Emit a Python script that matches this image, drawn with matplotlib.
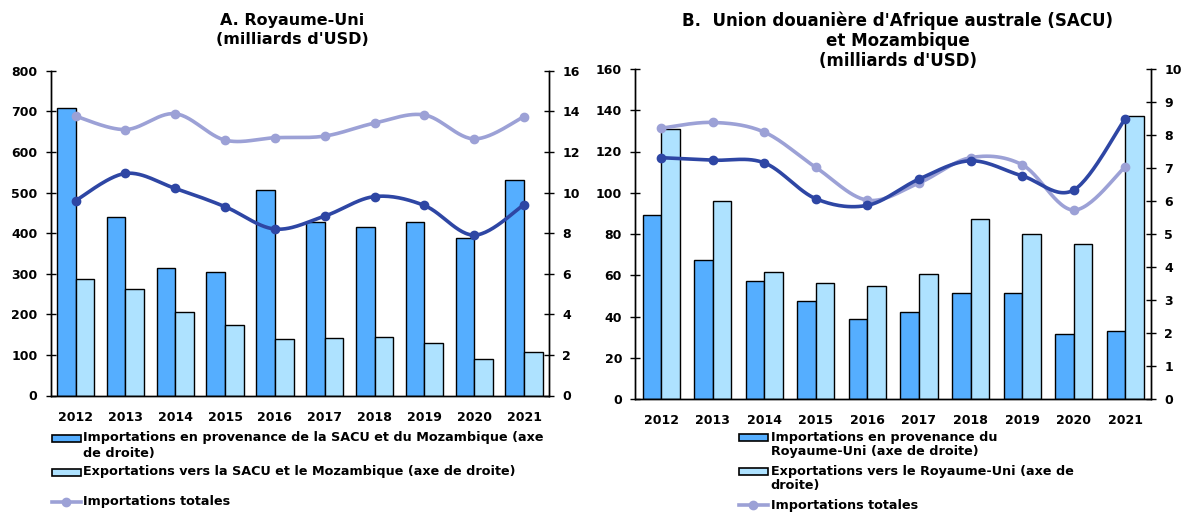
import numpy as np
import matplotlib
matplotlib.use("Agg")
import matplotlib.pyplot as plt
from matplotlib.patches import Rectangle
from matplotlib.lines import Line2D

plt.rcParams['font.family'] = ['DejaVu Sans']
plt.rcParams['font.weight'] = 'bold'

years = ["2012", "2013", "2014", "2015", "2016", "2017", "2018", "2019", "2020", "2021"]

# Panel A: Royaume-Uni
a_imports_sacu = [14.17, 8.77, 6.30, 6.10, 10.10, 8.57, 8.28, 8.54, 7.77, 10.62]   # right axis
a_exports_sacu = [5.76, 5.24, 4.09, 3.48, 2.78, 2.85, 2.90, 2.57, 1.80, 2.13]      # right axis
a_total_imports = [688, 655, 694, 629, 635, 639, 671, 691, 632, 687]               # left axis
a_total_exports = [480, 547, 510, 465, 410, 442, 490, 468, 395, 470]               # left axis

# Panel B: SACU et Mozambique
b_imports_uk = [5.57, 4.22, 3.58, 2.96, 2.42, 2.64, 3.22, 3.20, 1.97, 2.07]        # right axis
b_exports_uk = [8.19, 6.00, 3.86, 3.52, 3.42, 3.79, 5.45, 5.00, 4.70, 8.59]        # right axis
b_total_imports = [131.3, 134.1, 129.4, 112.3, 96.4, 104.7, 117.0, 113.6, 91.6, 112.6]
b_total_exports = [117.0, 115.8, 114.5, 97.1, 93.9, 106.6, 115.5, 108.2, 101.3, 136.0]

C_DARK_BAR = "#55AEFF"
C_LIGHT_BAR = "#AEE2FF"
C_LIGHT_LINE = "#9CA1D6"
C_DARK_LINE = "#2E46A4"

W, H = 1184, 512
fig = plt.figure(figsize=(W / 100, H / 100), dpi=100)


def smooth(xs, ys, n=30):
    xs = np.asarray(xs, float)
    ys = np.asarray(ys, float)
    px = np.concatenate([[xs[0]], xs, [xs[-1]]])
    py = np.concatenate([[ys[0]], ys, [ys[-1]]])
    ox, oy = [], []
    t = np.linspace(0, 1, n)
    for i in range(1, len(px) - 2):
        p0 = np.array([px[i], py[i]])
        p3 = np.array([px[i + 1], py[i + 1]])
        p1 = p0 + (np.array([px[i + 1], py[i + 1]]) - np.array([px[i - 1], py[i - 1]])) / 6
        p2 = p3 - (np.array([px[i + 2], py[i + 2]]) - np.array([px[i], py[i]])) / 6
        b = ((1 - t) ** 3)[:, None] * p0 + (3 * (1 - t) ** 2 * t)[:, None] * p1 \
            + (3 * (1 - t) * t ** 2)[:, None] * p2 + (t ** 3)[:, None] * p3
        ox.extend(b[:, 0]); oy.extend(b[:, 1])
    return ox, oy


def px2fig(x0, y0, x1, y1):
    return [x0 / W, 1 - y1 / H, (x1 - x0) / W, (y1 - y0) / H]


def panel(rect, imp, exp, tot_imp, tot_exp, lmax, lstep, rmax, rstep, bw):
    ax = fig.add_axes(rect)
    ax2 = ax.twinx()
    x = np.arange(len(years))
    ax2.bar(x - bw / 2, imp, width=bw, color=C_DARK_BAR, edgecolor="black", linewidth=1.0, zorder=2)
    ax2.bar(x + bw / 2, exp, width=bw, color=C_LIGHT_BAR, edgecolor="black", linewidth=1.0, zorder=2)
    sx, sy = smooth(x, tot_imp)
    ax.plot(sx, sy, color=C_LIGHT_LINE, lw=2.6, solid_capstyle='round', zorder=3)
    ax.plot(x, tot_imp, 'o', color=C_LIGHT_LINE, ms=6, zorder=3)
    sx, sy = smooth(x, tot_exp)
    ax.plot(sx, sy, color=C_DARK_LINE, lw=2.6, solid_capstyle='round', zorder=4)
    ax.plot(x, tot_exp, 'o', color=C_DARK_LINE, ms=6, zorder=4)
    ax.set_zorder(ax2.get_zorder() + 1)
    ax.patch.set_visible(False)
    ax.set_xlim(-0.5, len(years) - 0.5)
    ax.set_ylim(0, lmax)
    ax2.set_ylim(0, rmax)
    ax.set_yticks(np.arange(0, lmax + 0.001, lstep))
    ax2.set_yticks(np.arange(0, rmax + 0.001, rstep))
    ax.set_xticks(x)
    ax.set_xticklabels(years, fontsize=9, fontweight='bold')
    ax.tick_params(axis='x', length=0, pad=11)
    for a in (ax, ax2):
        a.tick_params(axis='y', direction='inout', length=7, width=1, labelsize=9, pad=6)
        for s in a.spines.values():
            s.set_linewidth(1)
            s.set_color("black")
        a.spines['top'].set_visible(False)
    for lab in ax.get_yticklabels() + ax2.get_yticklabels():
        lab.set_fontweight('bold')
    return ax, ax2


panel(px2fig(50.7, 70.7, 549, 395.5), a_imports_sacu, a_exports_sacu, a_total_imports,
      a_total_exports, 800, 100, 16, 2, 0.375)
panel(px2fig(635.3, 69, 1151, 399), b_imports_uk, b_exports_uk, b_total_imports,
      b_total_exports, 160, 20, 10, 1, 0.36)

# titles
fig.text(292 / W, 1 - 20 / H, "A. Royaume-Uni", ha='center', va='center', fontsize=11.5, fontweight='bold')
fig.text(292 / W, 1 - 40 / H, "(milliards d'USD)", ha='center', va='center', fontsize=11.5, fontweight='bold')
fig.text(898 / W, 1 - 21 / H, "B.  Union douanière d'Afrique australe (SACU)", ha='center', va='center', fontsize=12, fontweight='bold')
fig.text(898 / W, 1 - 41 / H, "et Mozambique", ha='center', va='center', fontsize=12, fontweight='bold')
fig.text(898 / W, 1 - 61 / H, "(milliards d'USD)", ha='center', va='center', fontsize=12, fontweight='bold')

# legends
LFS = 9.2


def leg_patch(x0, yc, color):
    fig.add_artist(Rectangle((x0 / W, 1 - (yc + 3.5) / H), 29 / W, 7 / H, transform=fig.transFigure,
                             facecolor=color, edgecolor='black', linewidth=1.2))


def leg_line(x0, yc):
    fig.add_artist(Line2D([x0 / W, (x0 + 29) / W], [1 - yc / H, 1 - yc / H], transform=fig.transFigure,
                          color=C_LIGHT_LINE, lw=2.6))
    fig.add_artist(Line2D([(x0 + 14.5) / W], [1 - yc / H], transform=fig.transFigure,
                          color=C_LIGHT_LINE, marker='o', ms=6, lw=0))


def leg_text(x0, yc, s):
    fig.text(x0 / W, 1 - yc / H, s, ha='left', va='center', fontsize=LFS, fontweight='bold')


# Panel A legend
leg_patch(51.7, 438, C_DARK_BAR)
leg_text(82.7, 438, "Importations en provenance de la SACU et du Mozambique (axe")
leg_text(82.7, 453, "de droite)")
leg_patch(51.7, 472, C_LIGHT_BAR)
leg_text(82.7, 472, "Exportations vers la SACU et le Mozambique (axe de droite)")
leg_line(51.7, 502)
leg_text(82.7, 502, "Importations totales")

# Panel B legend
leg_patch(739, 437, C_DARK_BAR)
leg_text(770.7, 437, "Importations en provenance du")
leg_text(770.7, 452, "Royaume-Uni (axe de droite)")
leg_patch(739, 471, C_LIGHT_BAR)
leg_text(770.7, 471, "Exportations vers le Royaume-Uni (axe de")
leg_text(770.7, 486, "droite)")
leg_line(739, 505)
leg_text(770.7, 505, "Importations totales")

fig.savefig("out.png", dpi=100)
